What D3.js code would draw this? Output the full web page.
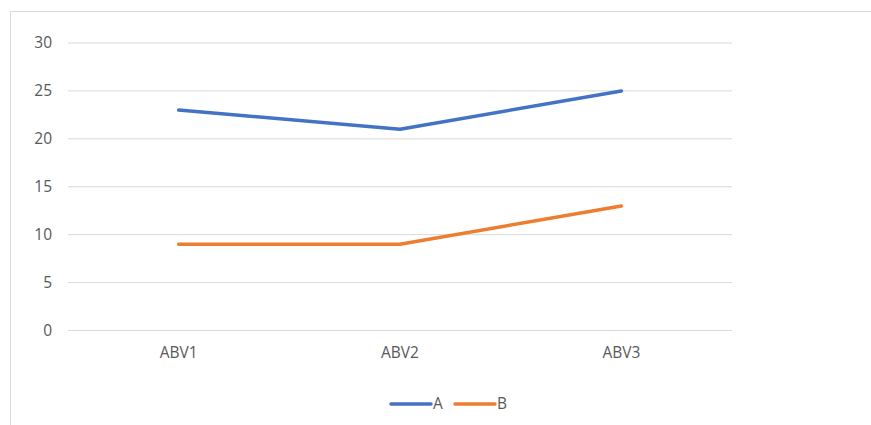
<!DOCTYPE html>
<html>
<head>
<meta charset="utf-8">
<script src="https://cdn.jsdelivr.net/npm/d3@7"></script>
<style>
  body { margin: 0; background: #fff; }
  text { font-family: "Open Sans", "Noto Sans", sans-serif; fill: #595959; }
</style>
</head>
<body>
<div id="chart"></div>
<script>
// Data
const categories = ["ABV1", "ABV2", "ABV3"];
const seriesNames = ["A", "B"];
const valuesA = [23, 21, 25];
const valuesB = [9, 9, 13];
const yTicks = [0, 5, 10, 15, 20, 25, 30];

const colors = { A: "#4472C4", B: "#ED7D31" };
const series = [
  { name: "A", values: valuesA },
  { name: "B", values: valuesB }
];

const W = 871, H = 425;
const margin = { top: 43, right: 139, bottom: 94.5, left: 68 };
const width = W - margin.left - margin.right;
const height = H - margin.top - margin.bottom;
const fontSize = "15.5px";

const svg = d3.select("#chart").append("svg")
  .attr("width", W)
  .attr("height", H);

// chart frame (only left and top edges visible in the crop)
svg.append("path")
  .attr("d", `M10.5,${H} V11.5 H${W}`)
  .attr("fill", "none")
  .attr("stroke", "#d9d9d9")
  .attr("stroke-width", 1);

const g = svg.append("g")
  .attr("transform", `translate(${margin.left},${margin.top})`);

const x = d3.scaleBand()
  .domain(categories)
  .range([0, width]);

const y = d3.scaleLinear()
  .domain([0, 30])
  .range([height, 0]);

// gridlines
g.append("g")
  .selectAll("line")
  .data(yTicks)
  .join("line")
  .attr("x1", 0)
  .attr("x2", width)
  .attr("y1", d => y(d))
  .attr("y2", d => y(d))
  .attr("stroke", "#d9d9d9")
  .attr("stroke-width", 1);

// y axis labels
const yAxis = g.append("g")
  .attr("transform", "translate(-16,0)")
  .call(d3.axisLeft(y).tickValues(yTicks).tickSize(0).tickPadding(0));
yAxis.select(".domain").remove();
yAxis.selectAll("text")
  .style("font-size", fontSize)
  .style("fill", "#595959");

// x axis labels
const xAxis = g.append("g")
  .attr("transform", `translate(0,${height + 16.5})`)
  .call(d3.axisBottom(x).tickSize(0).tickPadding(0));
xAxis.select(".domain").remove();
xAxis.selectAll("text")
  .style("font-size", fontSize)
  .style("fill", "#595959");

// lines
const line = d3.line()
  .x((d, i) => x(categories[i]) + x.bandwidth() / 2)
  .y(d => y(d));

g.selectAll(".series")
  .data(series)
  .join("path")
  .attr("class", "series")
  .attr("d", d => line(d.values))
  .attr("fill", "none")
  .attr("stroke", d => colors[d.name])
  .attr("stroke-width", 3.5)
  .attr("stroke-linecap", "round")
  .attr("stroke-linejoin", "round");

// legend
const legend = svg.append("g")
  .attr("transform", "translate(391,404)");

const item = legend.selectAll("g")
  .data(seriesNames)
  .join("g")
  .attr("transform", (d, i) => `translate(${i * 64},0)`);

item.append("line")
  .attr("x1", 0)
  .attr("x2", 40)
  .attr("stroke", d => colors[d])
  .attr("stroke-width", 3.5)
  .attr("stroke-linecap", "round");

item.append("text")
  .attr("x", 42)
  .attr("dy", "0.35em")
  .style("font-size", fontSize)
  .text(d => d);
</script>
</body>
</html>
